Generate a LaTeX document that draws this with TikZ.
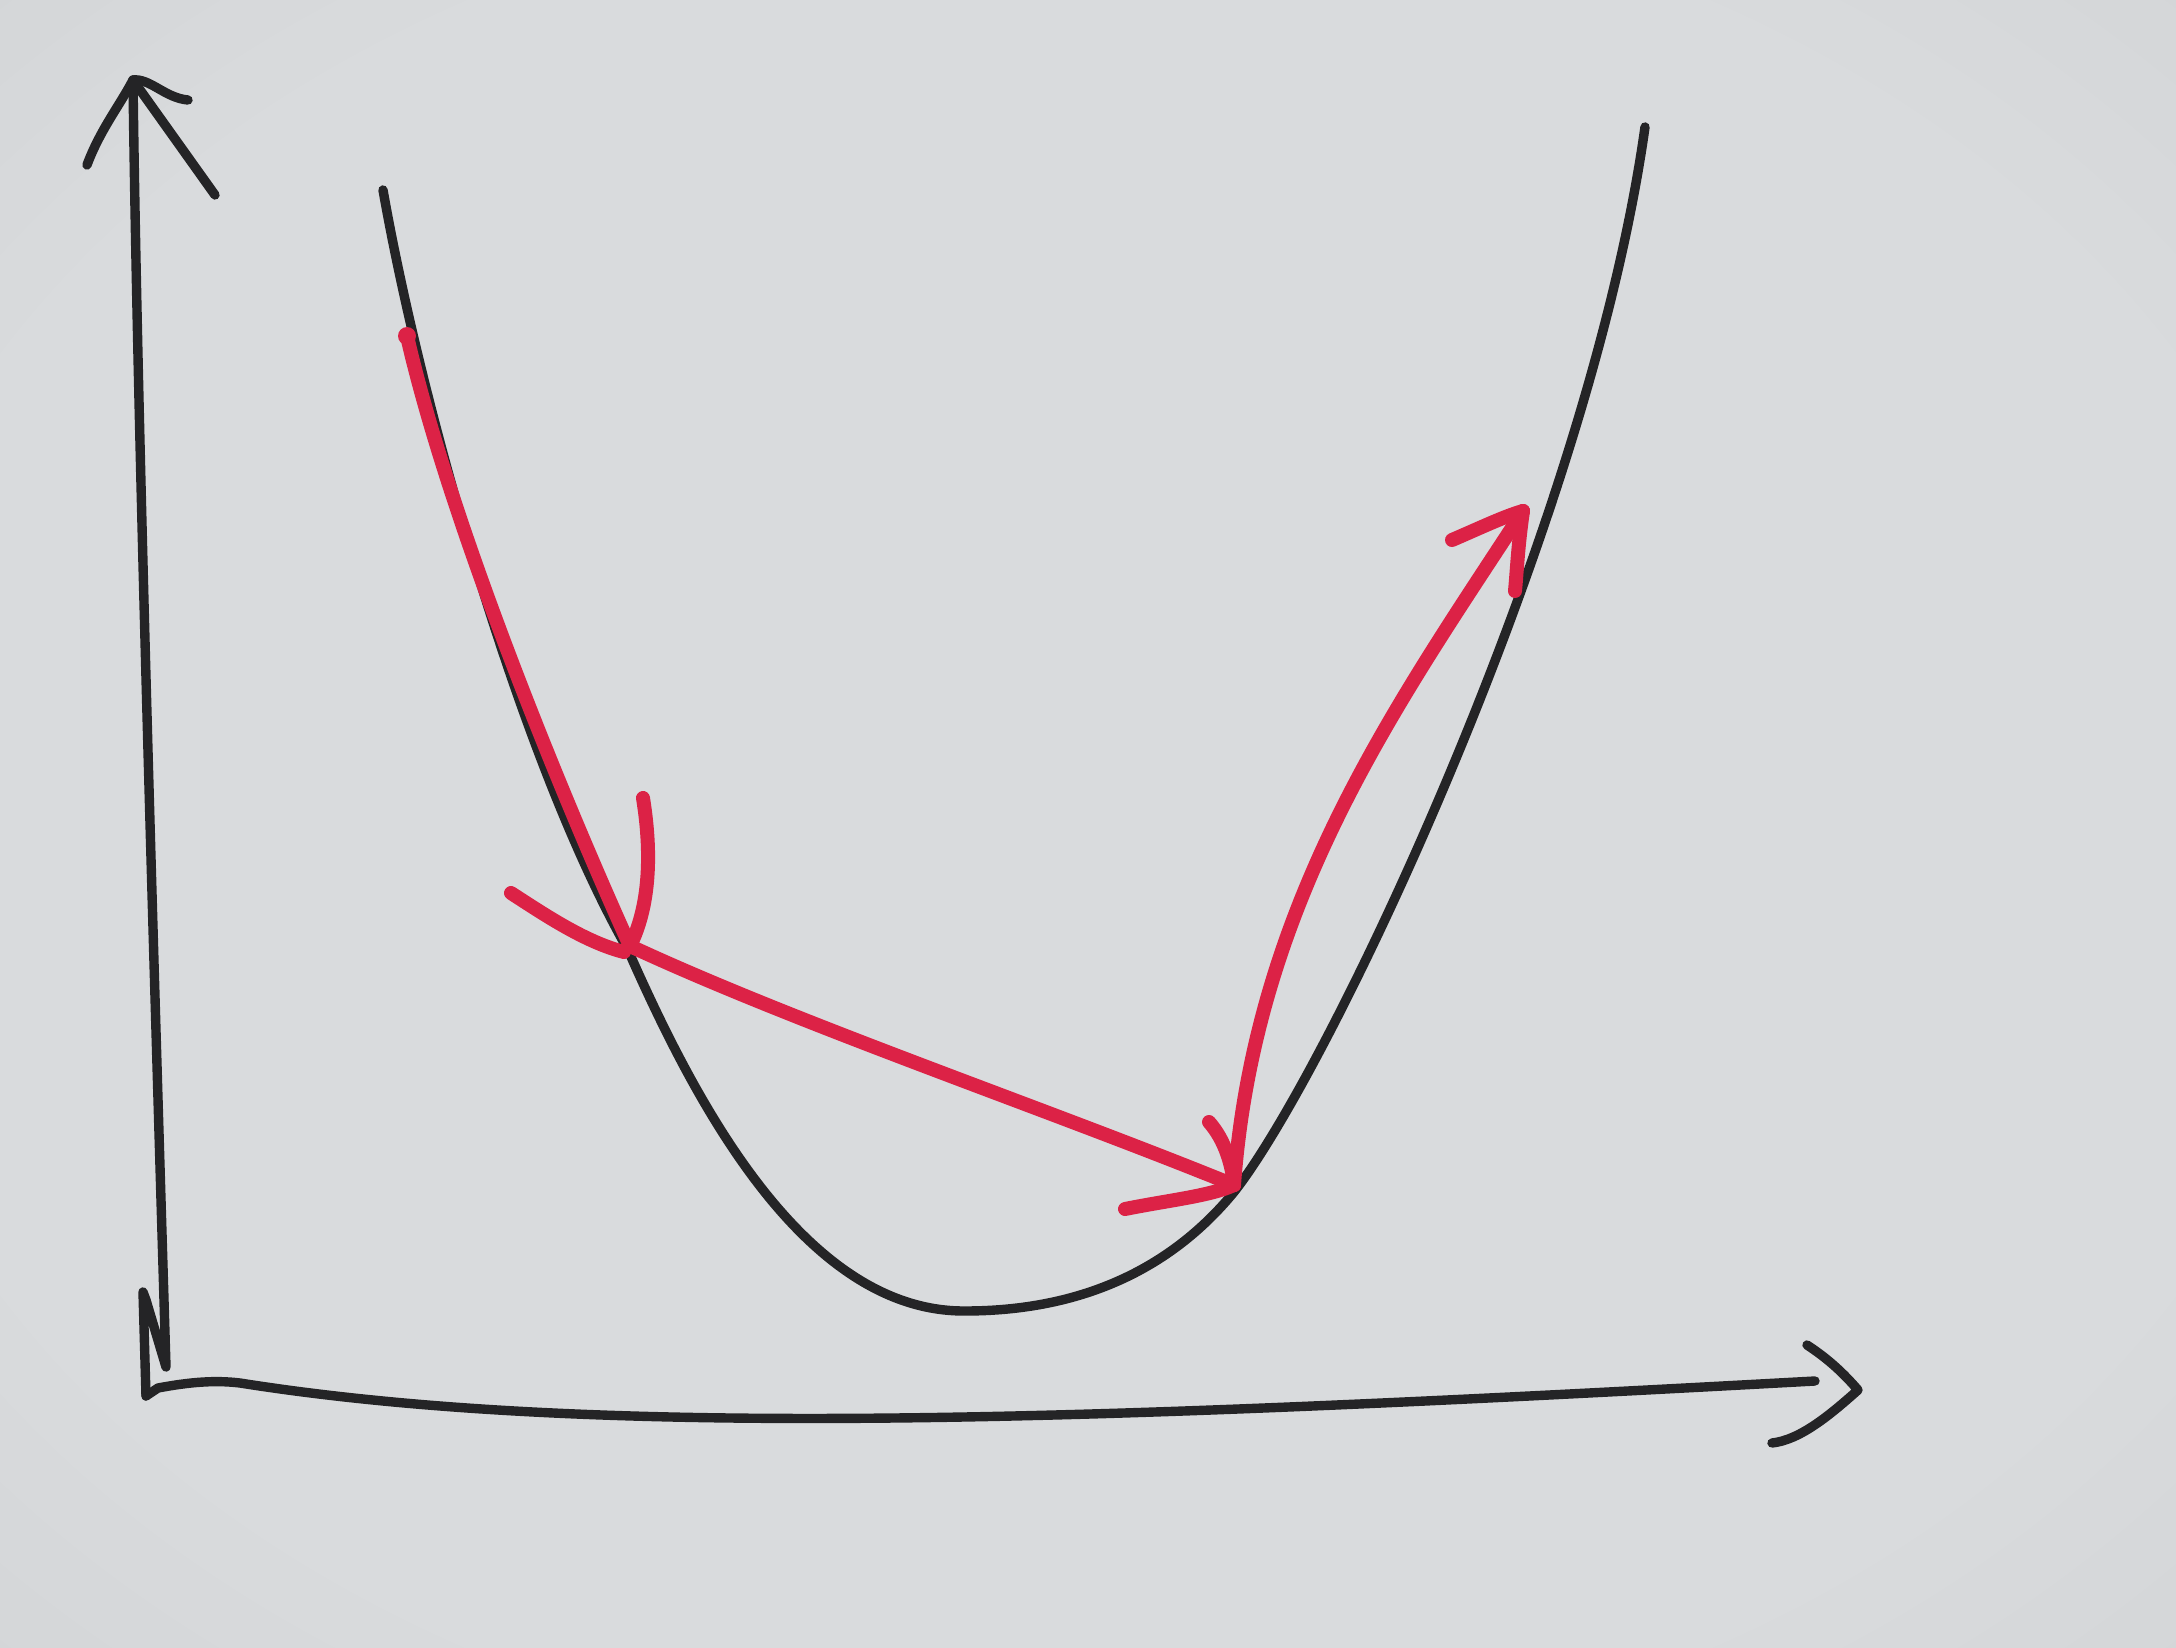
\documentclass[tikz,border=0pt]{standalone}
\definecolor{paperc}{RGB}{217,219,221}
\definecolor{papere}{RGB}{190,192,194}
\definecolor{inkblack}{RGB}{36,36,38}
\definecolor{inkred}{RGB}{220,34,70}
\pgfdeclareradialshading{paperv}{\pgfpoint{0bp}{0bp}}{color(0bp)=(paperc); color(28bp)=(paperc); color(71bp)=(papere)}
\begin{document}
\begin{tikzpicture}[x=0.5pt,y=-0.5pt,
  pen/.style={draw=inkblack,line width=4.7pt,line cap=round,line join=round},
  redpen/.style={draw=inkred,line width=7pt,line cap=round,line join=round}]
\shade[shading=paperv] (0,0) rectangle (2176,1648);
\useasboundingbox (0,0) rectangle (2176,1648);
% key points
\coordinate (ytop) at (133,80);
\coordinate (origin) at (146,1396);
\coordinate (xend) at (1815,1381);
\coordinate (p0) at (407,336);
\coordinate (p1) at (630,946);
\coordinate (p2) at (1234,1185);
\coordinate (p3) at (1523,511);
% y axis
\draw[pen] (ytop) .. controls (137,400) and (152,900) .. (166,1367) -- (146,1300) -- (143,1292) -- (origin);
\draw[pen] (87,165) .. controls (100,130) and (120,105) .. (ytop) .. controls (150,78) and (165,98) .. (188,100);
\draw[pen] (ytop) -- (215,195);
% x axis
\draw[pen] (origin) -- (158,1388) .. controls (190,1382) and (215,1380) .. (240,1383) .. controls (600,1440) and (1100,1420) .. (xend);
\draw[pen] (1807,1345) .. controls (1830,1360) and (1845,1375) .. (1858,1390) .. controls (1830,1415) and (1800,1440) .. (1772,1443);
% parabola
\draw[pen] (383,190) .. controls (420,400) and (520,760) .. (628,950)
  .. controls (690,1090) and (800,1312) .. (965,1311)
  .. controls (1080,1311) and (1170,1270) .. (1234,1192)
  .. controls (1330,1070) and (1590,520) .. (1645,127);
% red arrows
\draw[redpen] (p0) .. controls (448,515) and (555,780) .. (p1);
\fill[inkred] (p0) ellipse (9 and 9);
\draw[redpen] (511,893) .. controls (545,915) and (585,942) .. (624,952);
\draw[redpen] (643,798) .. controls (653,860) and (648,910) .. (p1);
\draw[redpen] (p1) .. controls (800,1025) and (1050,1110) .. (p2);
\draw[redpen] (1125,1209) .. controls (1170,1200) and (1210,1196) .. (p2);
\draw[redpen] (1209,1122) .. controls (1225,1140) and (1232,1165) .. (p2);
\draw[redpen] (p2) .. controls (1255,900) and (1400,700) .. (p3);
\draw[redpen] (1452,540) .. controls (1480,528) and (1505,516) .. (p3);
\draw[redpen] (p3) .. controls (1518,545) and (1517,570) .. (1515,591);
\end{tikzpicture}
\end{document}
